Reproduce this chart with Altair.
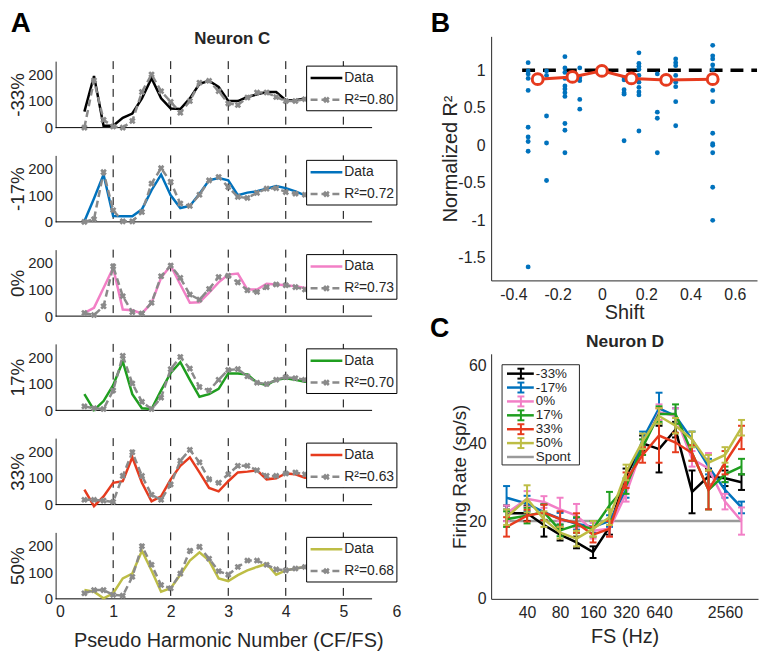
import altair as alt
import pandas as pd

FONT = "Liberation Sans"
AXC = "#262626"
GRAY = "#8a8a8a"

# ---------------- Panel A data ----------------
harm_x = [0.5, 0.667, 0.833, 1.0, 1.167, 1.333, 1.5, 1.667, 1.833, 2.0, 2.167, 2.333,
          2.5, 2.667, 2.833, 3.0, 3.167, 3.333, 3.5, 3.667, 3.833, 4.0, 4.167, 4.333, 4.5, 4.667]
shift_names = ["-33%", "-17%", "0%", "17%", "33%", "50%"]
shift_colors = ["#000000", "#0072BD", "#F27FC6", "#1F9E1F", "#E63B1E", "#BDBD45"]
r2_text = ["0.80", "0.72", "0.73", "0.70", "0.63", "0.68"]

data_m33 = [60, 194, 7, 7, 37, 53, 110, 186, 110, 72, 70, 110, 165, 176, 153, 100, 100, 115, 125, 134, 134, 103, 103, 110, 112, 110]
model_m33 = [0, 178, 29, 4, 0, 25, 134, 200, 137, 97, 56, 100, 169, 176, 137, 91, 85, 113, 132, 132, 115, 100, 100, 107, 110, 110]
data_m17 = [2, 88, 178, 22, 21, 21, 47, 119, 178, 100, 52, 60, 106, 156, 165, 156, 100, 110, 115, 125, 135, 127, 115, 100, 105, 108]
model_m17 = [0, 10, 187, 44, 2, 2, 37, 144, 202, 150, 69, 60, 102, 156, 169, 131, 94, 90, 109, 125, 127, 112, 106, 102, 105, 108]
data_0 = [12, 31, 106, 181, 25, 22, 10, 50, 144, 190, 119, 50, 52, 88, 127, 156, 160, 100, 100, 122, 119, 116, 112, 106, 108, 108]
model_0 = [12, 4, 37, 187, 75, 15, 10, 50, 150, 190, 144, 81, 62, 102, 147, 152, 127, 97, 91, 109, 119, 116, 109, 100, 105, 108]
data_17 = [61, 1, 35, 95, 184, 61, 8, 5, 75, 141, 181, 115, 51, 61, 81, 139, 139, 135, 104, 95, 115, 121, 115, 108, 110, 110]
model_17 = [15, 8, 5, 75, 205, 101, 32, 5, 48, 155, 201, 157, 88, 75, 115, 152, 155, 128, 104, 99, 115, 125, 121, 115, 112, 110]
data_33 = [56, -6, 31, 82, 88, 178, 82, 12, 31, 95, 146, 178, 121, 63, 50, 88, 121, 124, 129, 95, 99, 117, 114, 101, 105, 108]
model_33 = [18, 18, 15, 10, 108, 197, 108, 37, 18, 76, 165, 206, 159, 95, 82, 114, 146, 146, 129, 108, 108, 117, 121, 114, 112, 110]
data_50 = [33, 27, 2, 21, 77, 95, 181, 107, 27, 40, 91, 144, 175, 144, 77, 67, 89, 107, 120, 132, 91, 107, 114, 120, 118, 116]
model_50 = [21, 33, 33, 15, 12, 83, 198, 128, 52, 40, 95, 181, 196, 151, 104, 91, 120, 144, 144, 128, 111, 107, 114, 120, 118, 116]

data_a = [data_m33, data_m17, data_0, data_17, data_33, data_50]
model_a = [model_m33, model_m17, model_0, model_17, model_33, model_50]
harm_lines = [1, 2, 3, 4, 5]

# ---------------- Panel B data ----------------
b_shift_cols = [-0.333, -0.25, -0.167, -0.1, 0.1, 0.167, 0.25, 0.333, 0.5]
b_col_vals = [
    [1.10, 0.99, 0.95, 0.89, 0.73, 0.24, 0.11, 0.05, -0.08, -1.62],
    [0.99, 0.93, 0.39, 0.03, -0.47],
    [1.18, 1.03, 0.97, 0.89, 0.79, 0.75, 0.70, 0.65, 0.29, 0.20, -0.10],
    [1.03, 0.90, 0.86, 0.61, 0.48],
    [0.90, 0.87, 0.74, 0.70, 0.68, 0.06],
    [1.23, 1.09, 1.05, 1.01, 0.93, 0.84, 0.77, 0.71, 0.67, 0.19],
    [0.95, 0.44, 0.36, -0.10],
    [1.15, 1.10, 1.06, 0.93, 0.84, 0.78, 0.58, 0.26],
    [1.33, 1.19, 1.15, 1.07, 1.01, 0.73, 0.58, 0.16, 0.02, 0.0, -0.10, -0.56, -1.00],
]
b_mean_x = [-0.29, -0.133, 0.0, 0.133, 0.29, 0.5]
b_mean_y = [0.88, 0.91, 0.99, 0.89, 0.87, 0.88]

# ---------------- Panel C data ----------------
fs_vals = [26, 40, 57, 80, 113, 160, 226, 320, 453, 640, 905, 1280, 1810, 2560, 3620]
rate_c = [
    [22, 22, 19, 16.5, 14.5, 12, 18.5, 31.5, 40, 38.5, 43.5, 27.5, 31.5, 31, 30],
    [26, 24.5, 22.3, 20.6, 19.3, 18.5, 20, 28, 41, 49, 47, 41, 34, 28, 23.5],
    [22, 25.7, 24.9, 23, 21.4, 17.5, 18, 27, 39, 48, 47, 36, 33.5, 25, 20],
    [20.5, 21.4, 22.3, 17.6, 19, 18, 24, 29, 39, 47.5, 47.5, 37.5, 28, 32, 34],
    [18.5, 21.4, 22.2, 20.5, 19.5, 16.5, 18, 30.5, 37, 42, 40.2, 37.5, 28, 35, 41.5],
    [21, 25.7, 20.5, 17, 15.5, 18, 21, 32.5, 40.5, 47, 44.5, 41, 35, 37, 44],
]
err_c = [
    [2, 2, 3, 1.5, 1.5, 1.5, 2, 2, 2, 6, 2, 5.5, 2, 2, 2],
    [3, 2, 2, 1.5, 1.5, 1.5, 1.5, 2, 2, 4, 2, 2, 2, 2, 1.5],
    [2, 2, 1.5, 3, 3, 2, 2, 2, 2, 2, 2, 2, 4, 2, 3.5],
    [2, 2, 2, 1.5, 2, 2, 3.5, 2, 2, 2, 2.5, 2, 5, 2, 2],
    [2.5, 1.5, 2, 2, 2.5, 2, 2, 2, 2, 7, 2.5, 2, 5, 3, 3],
    [2, 3.5, 2, 1.5, 2, 2, 2, 2, 2, 2, 2, 2, 2, 2, 2],
]
spont_rate = 20

ONE = pd.DataFrame({"k": [0]})


def txt(s, x, y, size=14, bold=False, align="left", angle=0, color=AXC):
    return alt.Chart(ONE).mark_text(
        text=s, fontSize=size, fontWeight="bold" if bold else "normal",
        align=align, baseline="middle", color=color, font=FONT, angle=angle
    ).encode(x=alt.value(x), y=alt.value(y))


# ---------------- Panel A ----------------
A_W, A_H = 348, 67


def panel_a(i):
    df = pd.DataFrame({"h": harm_x, "data": data_a[i], "model": model_a[i]})
    xs = alt.Scale(domain=[0, 6], nice=False, zero=False)
    ys = alt.Scale(domain=[0, 250], nice=False)
    if i == 5:
        xax = alt.Axis(values=[0, 1, 2, 3, 4, 5, 6], format="d", title="Pseudo Harmonic Number (CF/FS)",
                       domain=False, ticks=False, grid=False, labelFontSize=16, labelPadding=5,
                       titleFontSize=20, titlePadding=11)
    else:
        xax = None
    yax = alt.Axis(values=[0, 100, 200], title=shift_names[i], grid=False, ticks=False,
                   labelFontSize=15, labelPadding=3, titleFontSize=19, titlePadding=0)

    def X(f):
        return alt.X(f, type="quantitative", scale=xs, axis=xax)

    def Y(f):
        return alt.Y(f, type="quantitative", scale=ys, axis=yax)

    vl = alt.Chart(pd.DataFrame({"v": harm_lines})).mark_rule(
        color="black", strokeWidth=1, strokeDash=[8, 6]
    ).encode(x=X("v"), y=alt.value(0), y2=alt.value(A_H))
    zero = alt.Chart(pd.DataFrame({"a": [0], "b": [5.5], "z": [0]})).mark_rule(
        color="black", strokeWidth=1
    ).encode(x=X("a"), x2="b", y=Y("z"))
    dline = alt.Chart(df).mark_line(color=shift_colors[i], strokeWidth=2.5).encode(x=X("h"), y=Y("data"))
    mline = alt.Chart(df).mark_line(color=GRAY, strokeWidth=2.5, strokeDash=[7, 4]).encode(x=X("h"), y=Y("model"))
    mpts = alt.Chart(df).mark_point(shape="cross", angle=45, filled=True, size=45, color=GRAY, opacity=1).encode(
        x=X("h"), y=Y("model"))

    box = alt.Chart(ONE).mark_rect(fill="white", stroke="black", strokeWidth=1).encode(
        x=alt.value(253), x2=alt.value(344), y=alt.value(5), y2=alt.value(50))
    l1 = alt.Chart(ONE).mark_rule(color=shift_colors[i], strokeWidth=2.5).encode(
        x=alt.value(257), x2=alt.value(289), y=alt.value(17))
    l2 = alt.Chart(ONE).mark_rule(color=GRAY, strokeWidth=2.5, strokeDash=[7, 4]).encode(
        x=alt.value(257), x2=alt.value(289), y=alt.value(39))
    lp = alt.Chart(ONE).mark_point(shape="cross", angle=45, filled=True, size=45, color=GRAY, opacity=1).encode(
        x=alt.value(273), y=alt.value(39))
    t1 = txt("Data", 291, 17, size=14)
    t2 = txt("R²=" + r2_text[i], 291, 39, size=14)
    return alt.layer(vl, zero, dline, mline, mpts, box, l1, l2, lp, t1, t2).properties(width=A_W, height=A_H)


spacer_a = alt.layer(
    txt("A", -35, -12, size=28, bold=True, align="center", color="black"),
    txt("Neuron C", 178, 3, size=17, bold=True, align="center"),
).properties(width=A_W, height=25)

col_a = alt.vconcat(
    spacer_a,
    alt.vconcat(*[panel_a(i) for i in range(6)], spacing=28, bounds="flush"),
    spacing=0, bounds="flush",
)

# ---------------- Panel B ----------------
B_W, B_H = 268, 246
b_rows = []
for sx, vals in zip(b_shift_cols, b_col_vals):
    for v in vals:
        b_rows.append({"shift": sx, "r2": v})
b_df = pd.DataFrame(b_rows)
b_mean = pd.DataFrame({"shift": b_mean_x, "r2": b_mean_y})

bxs = alt.Scale(domain=[-0.5, 0.7], nice=False, zero=False)
bys = alt.Scale(domain=[-1.8, 1.45], nice=False, zero=False)
bxax = alt.Axis(values=[-0.4, -0.2, 0, 0.2, 0.4, 0.6], labelExpr="toString(datum.value)", title="Shift",
                grid=False, ticks=False, labelFontSize=16, labelPadding=6, titleFontSize=20, titlePadding=0)
byax = alt.Axis(values=[-1.5, -1, -0.5, 0, 0.5, 1], labelExpr="toString(datum.value)", title="Normalized R²",
                grid=False, ticks=False, labelFontSize=16, labelPadding=6, titleFontSize=20, titlePadding=-3)


def BX(f):
    return alt.X(f, type="quantitative", scale=bxs, axis=bxax)


def BY(f):
    return alt.Y(f, type="quantitative", scale=bys, axis=byax)


b_dash = alt.Chart(pd.DataFrame({"a": [-0.36], "b": [0.7], "y": [1]})).mark_rule(
    color="black", strokeWidth=3.5, strokeDash=[13, 8]).encode(x=BX("a"), x2="b", y=BY("y"))
b_pts = alt.Chart(b_df).mark_circle(size=24, color="#0072BD", opacity=1).encode(x=BX("shift"), y=BY("r2"))
b_line = alt.Chart(b_mean).mark_line(color="#E63B1E", strokeWidth=3).encode(x=BX("shift"), y=BY("r2"))
b_circ = alt.Chart(b_mean).mark_point(shape="circle", size=120, filled=False, fill="white", fillOpacity=1,
                                      stroke="#E63B1E", strokeWidth=3, opacity=1).encode(x=BX("shift"), y=BY("r2"))
panel_b = alt.layer(
    b_dash, b_pts, b_line, b_circ,
    txt("B", -51, -12, size=27, bold=True, align="center", color="black"),
).properties(width=B_W, height=B_H)

# ---------------- Panel C ----------------
C_W, C_H = 269, 247
cxs = alt.Scale(type="log", domain=[18.8, 5120], nice=False)
cys = alt.Scale(domain=[0, 63], nice=False, zero=False)
cxax = alt.Axis(values=[40, 80, 160, 320, 640, 2560], format="d", labelOverlap=False, title="FS (Hz)",
                grid=False, ticks=False, labelFontSize=16, labelPadding=6, titleFontSize=20, titlePadding=6)
cyax = alt.Axis(values=[0, 20, 40, 60], title="Firing Rate (sp/s)", grid=False, ticks=False,
                labelFontSize=16, labelPadding=5, titleFontSize=19, titlePadding=-1)


def CX(f):
    return alt.X(f, type="quantitative", scale=cxs, axis=cxax)


def CY(f):
    return alt.Y(f, type="quantitative", scale=cys, axis=cyax)


c_layers = []
spont = alt.Chart(pd.DataFrame({"a": [fs_vals[0]], "b": [fs_vals[-1]], "y": [spont_rate]})).mark_rule(
    color="#9a9a9a", strokeWidth=2.5).encode(x=CX("a"), x2="b", y=CY("y"))
c_layers.append(spont)
for k in range(6):
    d = pd.DataFrame({"fs": fs_vals, "rate": rate_c[k],
                      "lo": [r - e for r, e in zip(rate_c[k], err_c[k])],
                      "hi": [r + e for r, e in zip(rate_c[k], err_c[k])]})
    caps = pd.DataFrame({"fs": fs_vals + fs_vals, "y": list(d["lo"]) + list(d["hi"])})
    col = shift_colors[k]
    c_layers.append(alt.Chart(d).mark_rule(color=col, strokeWidth=2).encode(x=CX("fs"), y=CY("lo"), y2="hi"))
    c_layers.append(alt.Chart(caps).mark_point(shape="stroke", size=49, filled=False, stroke=col,
                                               strokeWidth=2, opacity=1).encode(x=CX("fs"), y=CY("y")))
    c_layers.append(alt.Chart(d).mark_line(color=col, strokeWidth=2.5).encode(x=CX("fs"), y=CY("rate")))

leg_names = shift_names + ["Spont"]
leg_colors = shift_colors + ["#9a9a9a"]
leg_py = [20, 34, 48, 62, 76, 90, 104]
leg_df = pd.DataFrame({"name": leg_names, "py": leg_py, "lo": [p - 5 for p in leg_py], "hi": [p + 5 for p in leg_py]})
leg_err = leg_df.iloc[:6]
leg_caps = pd.DataFrame({"name": list(leg_err["name"]) * 2, "py": list(leg_err["lo"]) + list(leg_err["hi"])})
lcol = alt.Color("name:N", scale=alt.Scale(domain=leg_names, range=leg_colors), legend=None)

c_box = alt.Chart(ONE).mark_rect(fill="white", stroke=AXC, strokeWidth=1).encode(
    x=alt.value(11), x2=alt.value(89), y=alt.value(11), y2=alt.value(112))
c_lsamp = alt.Chart(leg_df).mark_rule(strokeWidth=2.5).encode(
    x=alt.value(16), x2=alt.value(43), y=alt.Y("py:Q", scale=None), color=lcol)
c_lerr = alt.Chart(leg_err).mark_rule(strokeWidth=2).encode(
    x=alt.value(30), y=alt.Y("lo:Q", scale=None), y2="hi:Q", color=lcol)
c_lcap = alt.Chart(leg_caps).mark_point(shape="stroke", size=49, filled=False, strokeWidth=2, opacity=1).encode(
    x=alt.value(30), y=alt.Y("py:Q", scale=None), stroke=lcol)
c_ltxt = alt.Chart(leg_df).mark_text(align="left", baseline="middle", fontSize=13.5, font=FONT, color=AXC).encode(
    x=alt.value(45), y=alt.Y("py:Q", scale=None), text="name:N")

panel_c = alt.layer(
    *c_layers, c_box, c_lsamp, c_lerr, c_lcap, c_ltxt,
    txt("C", -52, -25, size=27, bold=True, align="center", color="black"),
    txt("Neuron D", 135, -12, size=17.5, bold=True, align="center"),
).properties(width=C_W, height=C_H)

col_b = alt.vconcat(panel_b, panel_c, spacing=74, bounds="flush")

# with flush bounds the nested column counts as zero width, so spacing = panel A width + gap
chart = alt.hconcat(col_a, col_b, spacing=A_W + 91, bounds="flush").properties(
    padding={"left": 0, "top": 0, "right": 0, "bottom": 0}
).configure(font=FONT).configure_view(stroke=None).configure_axis(
    domainColor=AXC, labelColor=AXC, titleColor=AXC, titleFontWeight="normal", labelFont=FONT, titleFont=FONT
)

chart.save("out.html", embed_options={"renderer": "svg", "actions": False})
